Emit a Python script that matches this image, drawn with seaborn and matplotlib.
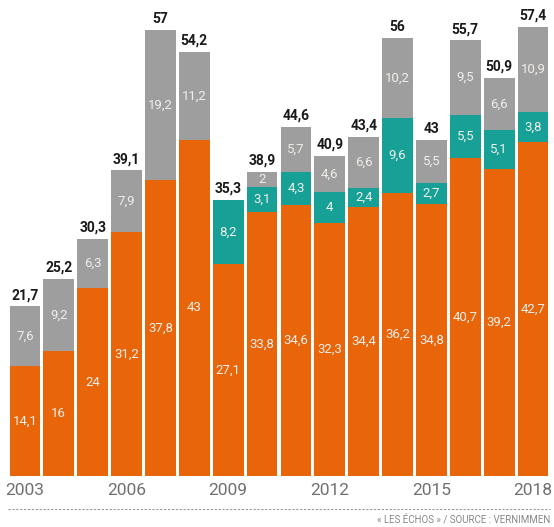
import matplotlib
matplotlib.use("Agg")
import matplotlib.pyplot as plt
import seaborn as sns
import pandas as pd
import numpy as np
from matplotlib.lines import Line2D

years = [str(y) for y in range(2003, 2019)]
orange_vals = [14.1, 16, 24, 31.2, 37.8, 43, 27.1, 33.8, 34.6, 32.3, 34.4, 36.2, 34.8, 40.7, 39.2, 42.7]
teal_vals = [0, 0, 0, 0, 0, 0, 8.2, 3.1, 4.3, 4, 2.4, 9.6, 2.7, 5.5, 5.1, 3.8]
gray_vals = [7.6, 9.2, 6.3, 7.9, 19.2, 11.2, 0, 2, 5.7, 4.6, 6.6, 10.2, 5.5, 9.5, 6.6, 10.9]
totals = [21.7, 25.2, 30.3, 39.1, 57, 54.2, 35.3, 38.9, 44.6, 40.9, 43.4, 56, 43, 55.7, 50.9, 57.4]
tick_years = ["2003", "2006", "2009", "2012", "2015", "2018"]
source_text = "« LES ÉCHOS » / SOURCE : VERNIMMEN"

ORANGE = "#E8650A"
TEAL = "#17A096"
GRAY = "#9E9E9E"

sns.set_theme(style="white")
fam = ["Roboto", "DejaVu Sans"]

df = pd.DataFrame({"year": years, "orange": orange_vals, "teal": teal_vals, "gray": gray_vals})
df["ot"] = df["orange"] + df["teal"]
df["all"] = df["ot"] + df["gray"]

fig = plt.figure(figsize=(5.54, 5.27), dpi=100)
ax = fig.add_axes([8/554, 51/527, 542/554, 60*7.82/527])

for col, c in [("all", GRAY), ("ot", TEAL), ("orange", ORANGE)]:
    sns.barplot(data=df, x="year", y=col, color=c, saturation=1, width=0.91,
                ax=ax, order=years, linewidth=0, errorbar=None)

def fmt(v):
    return f"{v:g}".replace(".", ",")

for i in range(len(years)):
    o, t, g = orange_vals[i], teal_vals[i], gray_vals[i]
    segs = [(0, o), (o, t), (o + t, g)]
    for base, v in segs:
        if v > 0:
            ax.text(i, base + v / 2, fmt(v), ha="center", va="center",
                    color="#F1EEEA", fontsize=9.5, family=fam)
    ax.annotate(fmt(totals[i]), (i, o + t + g), xytext=(0, 3), textcoords="offset points",
                ha="center", va="bottom", fontsize=10, fontweight="bold",
                color="#1a1a1a", family=fam, annotation_clip=False)

ax.set_xlim(-0.5, len(years) - 0.5)
ax.set_ylim(0, 60)
ax.set_xticks([years.index(y) for y in tick_years])
ax.set_xticklabels(tick_years, color="#707070", fontsize=12.5, family=fam)
ax.tick_params(axis="x", length=0, pad=5)
ax.set_yticks([])
ax.set_xlabel("")
ax.set_ylabel("")
for s in ax.spines.values():
    s.set_visible(False)

fig.add_artist(Line2D([8/554, 550/554], [1 - 509/527, 1 - 509/527], transform=fig.transFigure,
                      color="#9a9a9a", lw=0.8, linestyle=(0, (2, 1.5))))
fig.text(550/554, 1 - 519/527, source_text, ha="right", va="center", fontsize=7,
         color="#888888", family=fam)

fig.savefig("out.png", dpi=100, facecolor="white")
